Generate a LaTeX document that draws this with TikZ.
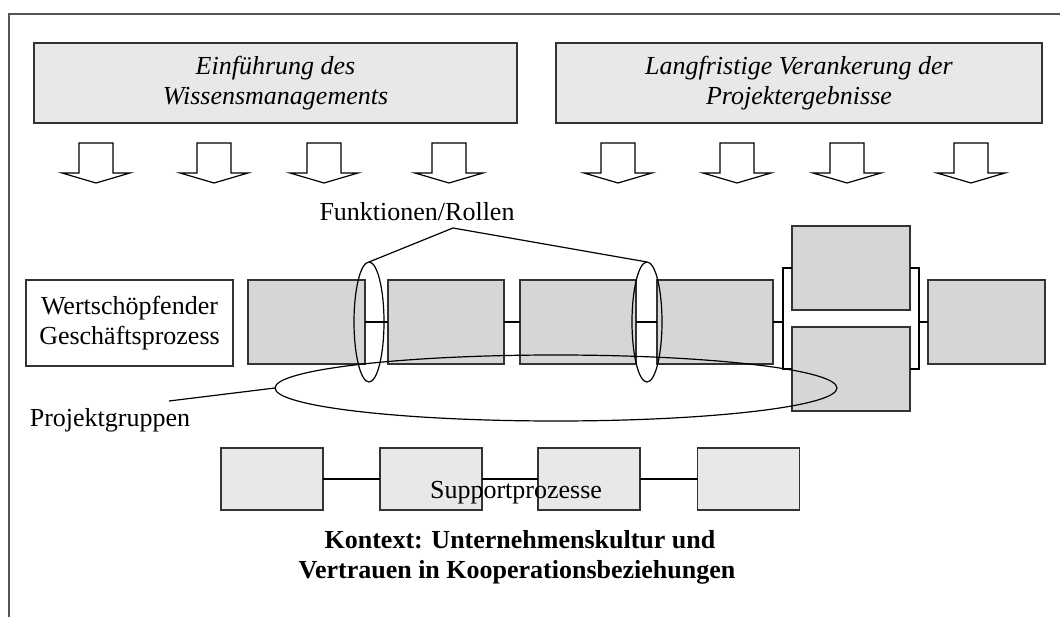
\documentclass[tikz,border=0pt]{standalone}
\usepackage{fontspec}
\setmainfont{Liberation Serif}
\usetikzlibrary{shapes.geometric}
\definecolor{lightfill}{HTML}{E8E8E8}
\definecolor{procfill}{HTML}{D6D6D6}
\definecolor{boxline}{HTML}{333333}
\definecolor{framecol}{HTML}{555555}
\begin{document}
\begin{tikzpicture}[x=1pt,y=-1pt,
  every node/.style={font=\fontsize{26}{30}\selectfont, inner sep=0pt, outer sep=0pt},
  topbox/.style={draw=boxline, fill=lightfill, line width=1.3pt, minimum height=80pt, align=center, font=\fontsize{26}{30}\selectfont\itshape},
  procbox/.style={draw=boxline, fill=procfill, line width=1.3pt, minimum width=116pt, minimum height=84pt},
  suppbox/.style={draw=boxline, fill=lightfill, line width=1.3pt, minimum width=102pt, minimum height=62pt},
  whitebox/.style={draw=boxline, fill=white, line width=1.3pt, minimum width=207pt, minimum height=86pt, align=center},
  conn/.style={draw=black, line width=1.2pt},
  ring/.style={ellipse, draw=black, line width=1.2pt},
  blockarrow/.style={draw=black, fill=white, line width=1.2pt, line join=miter},
  framestyle/.style={draw=framecol, line width=1.5pt}
]
\useasboundingbox (0,0) rectangle (1060,617);
% frame
\draw[framestyle] (9,617) -- (9,14) -- (1060,14);
% top boxes
\node[topbox, minimum width=483pt] (top1) at (275.5,83) {Einführung des\\Wissensmanagements};
\node[topbox, minimum width=486pt] (top2) at (799,83) {Langfristige Verankerung der\\Projektergebnisse};
% block arrows
\foreach \c in {96,214,324,449,618,737,847,971}{
  \draw[blockarrow] (\c-17,143) -- (\c+17,143) -- (\c+17,173) -- (\c+34,173) -- (\c,183) -- (\c-34,173) -- (\c-17,173) -- cycle;
}
% main process
\node[whitebox] (wert) at (129.5,323) {Wertschöpfender\\Geschäftsprozess};
\node[procbox, minimum width=117pt] (p1) at (306.5,322) {};
\node[procbox] (p2) at (446,322) {};
\node[procbox] (p3) at (578,322) {};
\node[procbox] (p4) at (715,322) {};
\node[procbox, minimum width=118pt] (p5) at (851,268) {};
\node[procbox, minimum width=118pt] (p6) at (851,369) {};
\node[procbox, minimum width=117pt] (p7) at (986.5,322) {};
\coordinate (bl) at (783,322);
\coordinate (br) at (919,322);
\draw[conn] (p1.east) -- (p2.west);
\draw[conn] (p2.east) -- (p3.west);
\draw[conn] (p3.east) -- (p4.west);
\draw[conn] (p4.east) -- (bl);
\draw[conn] (p5.west) -| (bl) |- (p6.west);
\draw[conn] (p5.east) -| (br) |- (p6.east);
\draw[conn] (br) -- (p7.west);
% ellipses
\node[ring, minimum width=30pt, minimum height=120pt] (e1) at (369,322) {};
\node[ring, minimum width=30pt, minimum height=120pt] (e2) at (647,322) {};
\node[ring, minimum width=562pt, minimum height=66pt] (eg) at (556,388) {};
% labels
\node[anchor=base] (fr) at (417,221) {Funktionen/Rollen};
\coordinate (apex) at (453,228);
\draw[conn] (e1.north) -- (apex) -- (e2.north);
\node[anchor=base] (pg) at (110,426) {Projektgruppen};
\coordinate (pgl) at (169,401);
\draw[conn] (pgl) -- (eg.west);
% support processes
\node[suppbox] (s1) at (272,479) {};
\node[suppbox] (s2) at (431,479) {};
\node[suppbox] (s3) at (589,479) {};
\node[suppbox] (s4) at (748.5,479) {};
\draw[conn] (s1.east) -- (s2.west);
\draw[conn] (s2.east) -- (s3.west);
\draw[conn] (s3.east) -- (s4.west);
\node[anchor=base] (sp) at (516,498) {Supportprozesse};
% context
\node[anchor=base, font=\fontsize{26}{30}\selectfont\bfseries] (ctx1) at (520,548) {Kontext: Unternehmenskultur und};
\node[anchor=base, font=\fontsize{26}{30}\selectfont\bfseries] (ctx2) at (517,578) {Vertrauen in Kooperationsbeziehungen};
\end{tikzpicture}
\end{document}
